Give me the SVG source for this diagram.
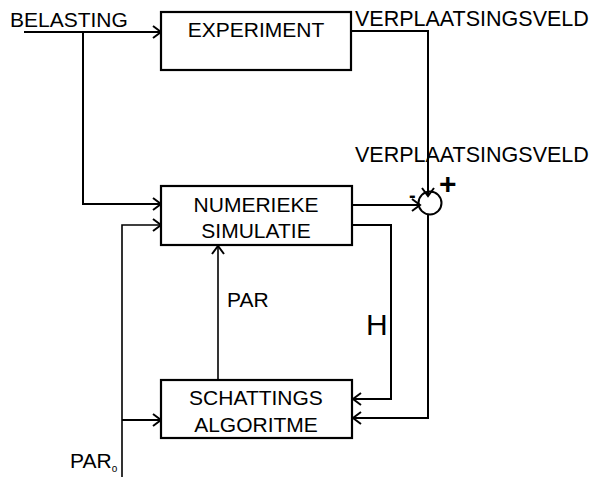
<svg xmlns="http://www.w3.org/2000/svg" width="593" height="477" viewBox="0 0 593 477">
<style>
text{font-family:"Liberation Sans",Arial,Helvetica,sans-serif;font-size:21px;fill:#000}
.box{fill:#fff;stroke:#000;stroke-width:2.2}
.c{text-anchor:middle}
.ln{fill:none;stroke:#000;stroke-width:2}
.thin{fill:none;stroke:#000;stroke-width:1.6}
</style>
<defs>
<marker id="arr" markerUnits="userSpaceOnUse" markerWidth="12" markerHeight="14" refX="9" refY="7" orient="auto">
<path d="M1,1 L9,7 L1,13" fill="none" stroke="#000" stroke-width="2"/>
</marker>
</defs>
<rect width="593" height="477" fill="#fff"/>
<g id="connectors">
<path class="ln" d="M24,32 H161" marker-end="url(#arr)"/>
<path class="ln" d="M83,32 V204 H161" marker-end="url(#arr)"/>
<path class="ln" d="M351,31 H428 V196" marker-end="url(#arr)"/>
<path class="ln" d="M352,205 H420" marker-end="url(#arr)"/>
<path class="ln" d="M352,225 H391 V399 H353" marker-end="url(#arr)"/>
<path class="ln" d="M428,214 V418 H353" marker-end="url(#arr)"/>
<path class="thin" d="M122,477 V225 H161" marker-end="url(#arr)"/>
<path class="ln" d="M122,420 H161" marker-end="url(#arr)"/>
<path class="thin" d="M218,380 V246" marker-end="url(#arr)"/>
</g>
<g id="sum">
<circle cx="430" cy="203" r="11.5" fill="none" stroke="#000" stroke-width="2"/>
<text x="409" y="202" style="font-size:20px;font-weight:bold">-</text>
<text x="439" y="194" style="font-size:30px;font-weight:bold">+</text>
</g>
<g id="experiment">
<rect class="box" x="161" y="12" width="190" height="58"/>
<text class="c" x="256" y="37">EXPERIMENT</text>
</g>
<g id="numerieke-simulatie">
<rect class="box" x="161" y="186" width="191" height="59"/>
<text class="c" x="256" y="212">NUMERIEKE</text>
<text class="c" x="256" y="238">SIMULATIE</text>
</g>
<g id="schattings-algoritme">
<rect class="box" x="161" y="380" width="191" height="58"/>
<text class="c" x="256" y="405">SCHATTINGS</text>
<text class="c" x="256" y="432">ALGORITME</text>
</g>
<g id="labels">
<text x="10" y="27">BELASTING</text>
<text x="355" y="26" style="font-size:21.5px">VERPLAATSINGSVELD</text>
<text x="355" y="162" style="font-size:21.5px">VERPLAATSINGSVELD</text>
<text x="227" y="307">PAR</text>
<text x="366" y="335" style="font-size:30px">H</text>
<text x="70" y="468">PAR<tspan style="font-size:10px" dy="4">o</tspan></text>
</g>
</svg>
